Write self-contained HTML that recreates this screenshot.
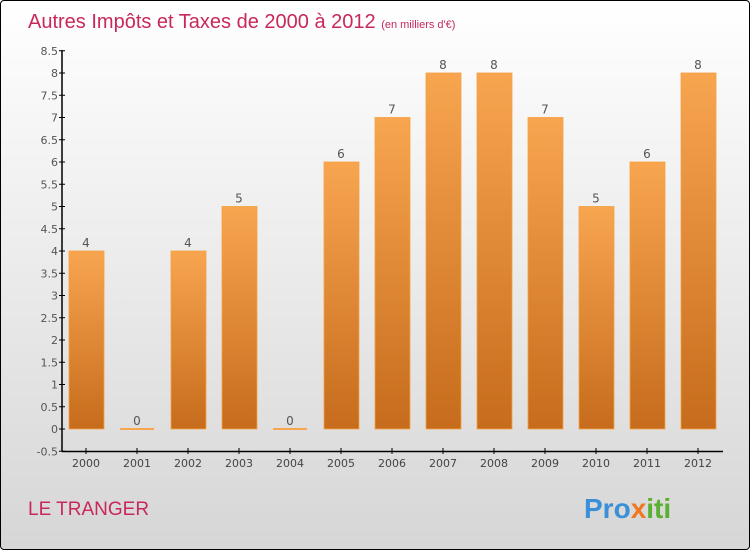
<!DOCTYPE html>
<html><head><meta charset="utf-8"><style>
body{margin:0}
#c{width:748px;height:548px;border:1px solid #000;border-radius:4px;background:linear-gradient(#fff,#d6d6d6);position:relative;overflow:hidden;font-family:"DejaVu Sans","Liberation Sans",sans-serif}
</style></head><body>
<div id="c">
<svg id="s" width="748" height="548" xmlns="http://www.w3.org/2000/svg">
<defs><linearGradient id="g" x1="0" y1="0" x2="0" y2="1"><stop offset="0" stop-color="#f8a550"/><stop offset="1" stop-color="#c66c1c"/></linearGradient></defs>
<text x="27" y="27" font-size="20" fill="#c8285a" font-weight="200" style="font-family:'Liberation Sans',sans-serif">Autres Impôts et Taxes de 2000 à 2012 <tspan font-size="11">(en milliers d'€)</tspan></text>
<text x="27" y="514" font-size="19" fill="#c8285a" style="font-family:'Liberation Sans',sans-serif">LE TRANGER</text>
<text x="583" y="517" font-size="28" font-weight="bold" style="font-family:'Liberation Sans',sans-serif"><tspan fill="#3a8fd8">Pro</tspan><tspan fill="#f07820">x</tspan><tspan fill="#5ab030">iti</tspan></text>
<g id="plot"></g>
</svg></div>
<script>
const categories=["2000","2001","2002","2003","2004","2005","2006","2007","2008","2009","2010","2011","2012"];
const values=[4,0,4,5,0,6,7,8,8,7,5,6,8];
const yTicks=[-0.5,0,0.5,1,1.5,2,2.5,3,3.5,4,4.5,5,5.5,6,6.5,7,7.5,8,8.5];
const ns="http://www.w3.org/2000/svg";
const g=document.getElementById('plot');
const y=v=>428-v*44.5;
const x=i=>85+i*51;
function el(t,a){const e=document.createElementNS(ns,t);for(const k in a)e.setAttribute(k,a[k]);g.appendChild(e);return e;}
let ax=el('line',{x1:61,y1:49,x2:61,y2:450.5,stroke:'#000','stroke-width':1.5});

let bx=el('line',{x1:61,y1:450.5,x2:722,y2:450.5,stroke:'#000','stroke-width':1.5});

yTicks.forEach(v=>{
 const t=el('line',{x1:58,x2:64,y1:y(v),y2:y(v),stroke:'#000'});
 
 const l=el('text',{x:57,y:y(v)+4,'font-size':11,fill:'#555','text-anchor':'end'});
 l.textContent=String(v);
 
});
categories.forEach((c,i)=>{
 const v=values[i];const cx=x(i);
 const t=el('line',{x1:cx,x2:cx,y1:447,y2:453,stroke:'#000'});
 
 const l=el('text',{x:cx,y:466,'font-size':11,fill:'#444','text-anchor':'middle'});
 l.textContent=c;
 
 let b;
 if(v===0){b=el('rect',{x:cx-17,y:y(0)-1,width:34,height:2,fill:'#f8a550'});}
 else b=el('rect',{x:cx-17,y:y(v),width:35,height:y(0)-y(v),fill:'url(#g)',stroke:'#f5a040','stroke-width':0.8});
 
 const vl=el('text',{x:cx,y:y(v)-4,'font-size':12,fill:'#555','text-anchor':'middle'});
 vl.textContent=String(v);
 
});
</script>
</body></html>
